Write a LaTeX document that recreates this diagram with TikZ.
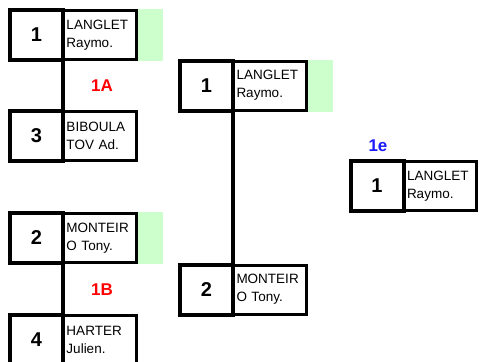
\documentclass[tikz,border=0pt]{standalone}
\usepackage{fontspec}
\setmainfont{Liberation Sans}
\usetikzlibrary{positioning,backgrounds}
\definecolor{winbg}{RGB}{204,255,204}
\definecolor{grpred}{RGB}{255,0,0}
\definecolor{grpblue}{RGB}{26,26,255}
\tikzset{
  sd/.style={draw,line width=4pt,outer sep=0pt,inner sep=0pt,
             minimum width=53pt,minimum height=50pt,
             font=\fontsize{20}{24}\selectfont\bfseries},
  plr/.style={draw,line width=3pt,outer sep=0pt,inner xsep=3.5pt,inner ysep=0pt,
              text width=66pt,minimum height=49pt,align=left,
              font=\fontsize{13.5}{18}\selectfont},
  winbar/.style={fill=winbg,minimum width=27pt,minimum height=52pt,
                 inner sep=0pt,outer sep=0pt},
  lnk/.style={line width=4pt},
  grp/.style={font=\fontsize{17}{20}\selectfont\bfseries,text=grpred},
}
\begin{document}
\begin{tikzpicture}[x=1pt,y=-1pt]
  \useasboundingbox (0,0) rectangle (483,362);

  % --- tour 1 -------------------------------------------------------------
  \node[sd] (s1) at (36.5,35)  {1};
  \node[plr,right=0pt of s1] (p1) {LANGLET\\Raymo.};
  \node[sd] (s3) at (36.5,136) {3};
  \node[plr,right=0pt of s3] (p3) {BIBOULA\\TOV Ad.};
  \node[sd] (s2) at (36.5,238) {2};
  \node[plr,right=0pt of s2] (p2) {MONTEIR\\O Tony.};
  \node[sd] (s4) at (36.5,340) {4};
  \node[plr,right=0pt of s4] (p4) {HARTER\\Julien.};

  \node[grp] (gA) at (102,86)  {1A};
  \node[grp] (gB) at (102,290) {1B};

  % --- tour 2 -------------------------------------------------------------
  \node[sd] (t1) at (206.5,85.5)  {1};
  \node[plr,right=0pt of t1] (q1) {LANGLET\\Raymo.};
  \node[sd] (t2) at (206.5,289.5) {2};
  \node[plr,right=0pt of t2] (q2) {MONTEIR\\O Tony.};

  % --- finale -------------------------------------------------------------
  \node[grp,text=grpblue] (gE) at (378,146) {1e};
  \node[sd] (f1) at (377,186) {1};
  \node[plr,right=0pt of f1] (r1) {LANGLET\\Raymo.};

  % vainqueurs surlignés
  \begin{scope}[on background layer]
    \node[winbar,right=0pt of p1] (w1) {};
    \node[winbar,right=0pt of p2] (w2) {};
    \node[winbar,right=0pt of q1] (w3) {};
  \end{scope}

  % --- liaisons -----------------------------------------------------------
  \draw[lnk] (s1.south east) -- (s3.north east);
  \draw[lnk] (s2.south east) -- (s4.north east);
  \draw[lnk] (t1.south east) -- (t2.north east);
\end{tikzpicture}
\end{document}
